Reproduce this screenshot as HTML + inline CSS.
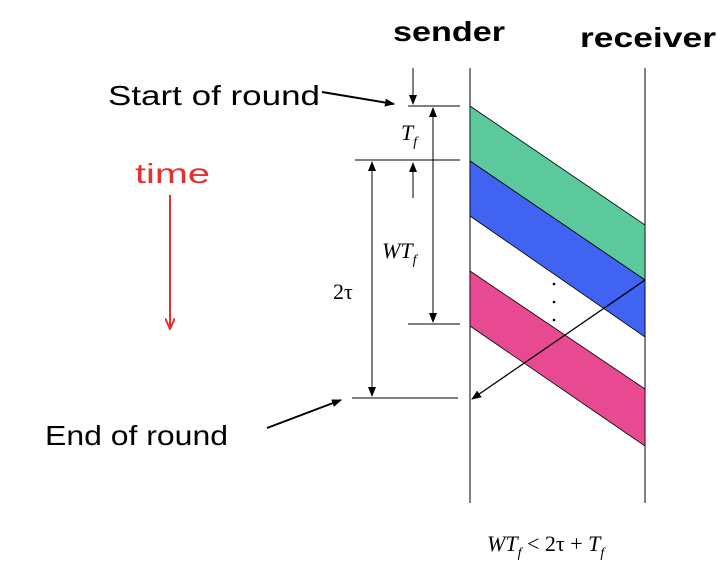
<!DOCTYPE html>
<html><head><meta charset="utf-8"><style>
body{margin:0;background:#fff;}
svg{display:block;}
.t{font-family:"Liberation Sans",sans-serif;font-size:28px;fill:#000;}
.m{font-family:"Liberation Serif",serif;font-size:22px;fill:#000;}
</style></head><body>
<svg width="722" height="570" viewBox="0 0 722 570">
<defs>
<marker id="ah" markerWidth="10" markerHeight="8" refX="9" refY="4" orient="auto" markerUnits="userSpaceOnUse"><path d="M0,0 L10,4 L0,8 z" fill="#000"/></marker>
<marker id="ahs" markerWidth="10" markerHeight="8" refX="1" refY="4" orient="auto" markerUnits="userSpaceOnUse"><path d="M10,0 L0,4 L10,8 z" fill="#000"/></marker>
<marker id="ahr" markerWidth="12" markerHeight="10" refX="10" refY="5" orient="auto" markerUnits="userSpaceOnUse"><path d="M0,0 L11,5 L0,10" fill="none" stroke="#e53030" stroke-width="2"/></marker>
</defs>
<text class="t" x="393" y="41" textLength="112" lengthAdjust="spacingAndGlyphs" style="font-weight:bold">sender</text>
<text class="t" x="580" y="47" textLength="136" lengthAdjust="spacingAndGlyphs" style="font-weight:bold">receiver</text>
<line x1="470" y1="68" x2="470" y2="503" stroke="#000"/>
<line x1="645" y1="68" x2="645" y2="503" stroke="#000"/>
<polygon points="470,106 645,225 645,280 470,161" fill="#5bc99b" stroke="#000" stroke-width="0.8"/>
<polygon points="470,161 645,280 645,337 470,216" fill="#4063f2" stroke="#000" stroke-width="0.8"/>
<polygon points="470,271 645,389 645,446 470,326" fill="#e84a92" stroke="#000" stroke-width="0.8"/>
<g fill="#000"><circle cx="554" cy="284" r="1.3"/><circle cx="554" cy="302" r="1.3"/><circle cx="554" cy="320" r="1.3"/></g>
<line x1="645" y1="280" x2="472" y2="399" stroke="#000" stroke-width="1.3" marker-end="url(#ah)"/>
<g stroke="#000" stroke-width="1">
<line x1="408" y1="106" x2="460" y2="106"/><line x1="355" y1="160" x2="460" y2="160"/>
<line x1="408" y1="324" x2="460" y2="324"/><line x1="352" y1="398" x2="458" y2="398"/>
</g>
<g stroke="#000" stroke-width="1">
<line x1="413" y1="68" x2="413" y2="104" marker-end="url(#ah)"/>
<line x1="413" y1="198" x2="413" y2="163" marker-end="url(#ah)"/>
<line x1="433" y1="108" x2="433" y2="322" marker-start="url(#ahs)" marker-end="url(#ah)"/>
<line x1="372" y1="162" x2="372" y2="396" marker-start="url(#ahs)" marker-end="url(#ah)"/>
</g>
<text class="m" x="401" y="140" font-style="italic">T<tspan font-size="14" dy="6">f</tspan></text>
<text class="m" x="382" y="258" font-style="italic">WT<tspan font-size="14" dy="6">f</tspan></text>
<text class="m" x="333" y="299">2τ</text>
<text class="t" x="108" y="105" textLength="212" lengthAdjust="spacingAndGlyphs">Start of round</text>
<line x1="322" y1="92" x2="394" y2="104" stroke="#000" stroke-width="2" marker-end="url(#ah)"/>
<text class="t" x="135" y="183" textLength="75" lengthAdjust="spacingAndGlyphs" style="fill:#e53030">time</text>
<line x1="170" y1="195" x2="170" y2="328" stroke="#e53030" stroke-width="2" marker-end="url(#ahr)"/>
<text class="t" x="45" y="445" textLength="183" lengthAdjust="spacingAndGlyphs">End of round</text>
<line x1="267" y1="428" x2="341" y2="400" stroke="#000" stroke-width="2" marker-end="url(#ah)"/>
<text class="m" x="487" y="551" font-style="italic">WT<tspan font-size="14" dy="6">f</tspan><tspan dy="-6" font-style="normal"> &lt; 2τ + </tspan>T<tspan font-size="14" dy="6">f</tspan></text>
</svg>
</body></html>
